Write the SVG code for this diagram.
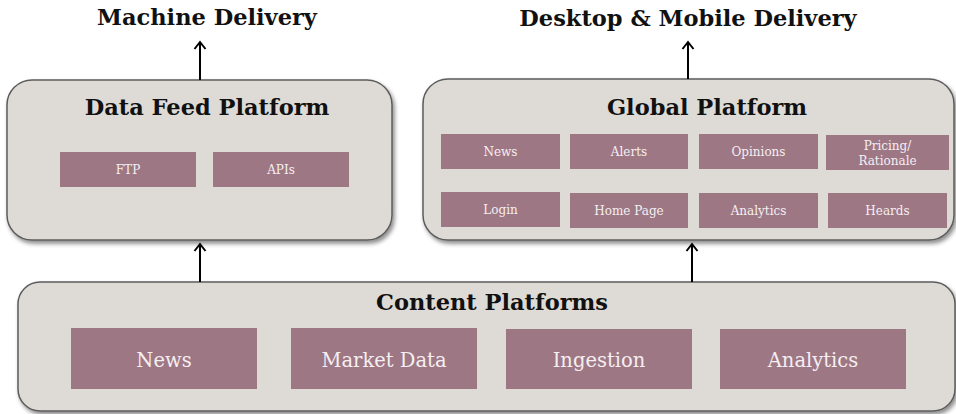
<svg xmlns="http://www.w3.org/2000/svg" width="956" height="414" viewBox="0 0 956 414">
  <style>
    .title { font-family: "DejaVu Serif", "Liberation Serif", serif; font-weight: bold; font-size: 22.5px; fill: #111; text-anchor: middle; }
    .panel { fill: #dedbd6; stroke: #5c5c5c; stroke-width: 1.5; filter: url(#shadow); }
    .item { fill: #9e7785; }
    .label { font-family: "DejaVu Serif", "Liberation Serif", serif; font-size: 12px; fill: #f5eff1; text-anchor: middle; }
    .label-lg { font-family: "DejaVu Serif", "Liberation Serif", serif; font-size: 19.5px; fill: #f5eff1; text-anchor: middle; }
    .flow { stroke: #000; stroke-width: 2; fill: none; marker-end: url(#chevron); }
  </style>
  <defs>
    <filter id="shadow" x="-5%" y="-10%" width="115%" height="130%">
      <feDropShadow dx="2" dy="3" stdDeviation="2" flood-color="#000" flood-opacity="0.45"/>
    </filter>
    <marker id="chevron" markerUnits="userSpaceOnUse" markerWidth="14" markerHeight="14" refX="10" refY="7" orient="auto" viewBox="0 0 14 14">
      <path d="M3,1.5 L10,7 L3,12.5" fill="none" stroke="#000" stroke-width="2"/>
    </marker>
  </defs>

  <!-- delivery headings -->
  <text class="title" x="207" y="25">Machine Delivery</text>
  <text class="title" x="688" y="26">Desktop &amp; Mobile Delivery</text>

  <!-- Data Feed Platform -->
  <g id="data-feed-platform">
    <rect class="panel" x="7" y="80" width="385" height="160" rx="25" ry="25"/>
    <text class="title" x="207" y="115">Data Feed Platform</text>
    <g id="ftp">
      <rect class="item" x="60" y="152" width="136" height="35"/>
      <text class="label" x="128" y="174">FTP</text>
    </g>
    <g id="apis">
      <rect class="item" x="213" y="152" width="136" height="35"/>
      <text class="label" x="281" y="174">APIs</text>
    </g>
  </g>

  <!-- Global Platform -->
  <g id="global-platform">
    <rect class="panel" x="423" y="79" width="531" height="161" rx="25" ry="25"/>
    <text class="title" x="707" y="115">Global Platform</text>
    <g id="gp-news">
      <rect class="item" x="441" y="134" width="119" height="35"/>
      <text class="label" x="500.5" y="156">News</text>
    </g>
    <g id="gp-alerts">
      <rect class="item" x="570" y="134" width="118" height="35"/>
      <text class="label" x="629" y="156">Alerts</text>
    </g>
    <g id="gp-opinions">
      <rect class="item" x="699" y="134" width="119" height="35"/>
      <text class="label" x="758.5" y="156">Opinions</text>
    </g>
    <g id="gp-pricing">
      <rect class="item" x="826" y="135" width="123" height="35"/>
      <text class="label" x="887.5" y="150">Pricing/</text>
      <text class="label" x="887.5" y="165">Rationale</text>
    </g>
    <g id="gp-login">
      <rect class="item" x="441" y="192" width="119" height="35"/>
      <text class="label" x="500.5" y="214">Login</text>
    </g>
    <g id="gp-home-page">
      <rect class="item" x="570" y="193" width="118" height="35"/>
      <text class="label" x="629" y="215">Home Page</text>
    </g>
    <g id="gp-analytics">
      <rect class="item" x="699" y="193" width="119" height="35"/>
      <text class="label" x="758.5" y="215">Analytics</text>
    </g>
    <g id="gp-heards">
      <rect class="item" x="828" y="193" width="119" height="35"/>
      <text class="label" x="887.5" y="215">Heards</text>
    </g>
  </g>

  <!-- Content Platforms -->
  <g id="content-platforms">
    <rect class="panel" x="18" y="282" width="937" height="129" rx="22" ry="22"/>
    <text class="title" x="492" y="310">Content Platforms</text>
    <g id="cp-news">
      <rect class="item" x="71" y="328" width="186" height="61"/>
      <text class="label-lg" x="164" y="367">News</text>
    </g>
    <g id="cp-market-data">
      <rect class="item" x="291" y="328" width="186" height="61"/>
      <text class="label-lg" x="384" y="367">Market Data</text>
    </g>
    <g id="cp-ingestion">
      <rect class="item" x="506" y="329" width="186" height="60"/>
      <text class="label-lg" x="599" y="367">Ingestion</text>
    </g>
    <g id="cp-analytics">
      <rect class="item" x="720" y="329" width="186" height="60"/>
      <text class="label-lg" x="813" y="367">Analytics</text>
    </g>
  </g>

  <!-- connectors -->
  <g id="connectors">
    <line class="flow" x1="200" y1="80" x2="200" y2="42"/>
    <line class="flow" x1="688" y1="79" x2="688" y2="42"/>
    <line class="flow" x1="200" y1="282" x2="200" y2="244"/>
    <line class="flow" x1="692" y1="282" x2="692" y2="244"/>
  </g>
</svg>
